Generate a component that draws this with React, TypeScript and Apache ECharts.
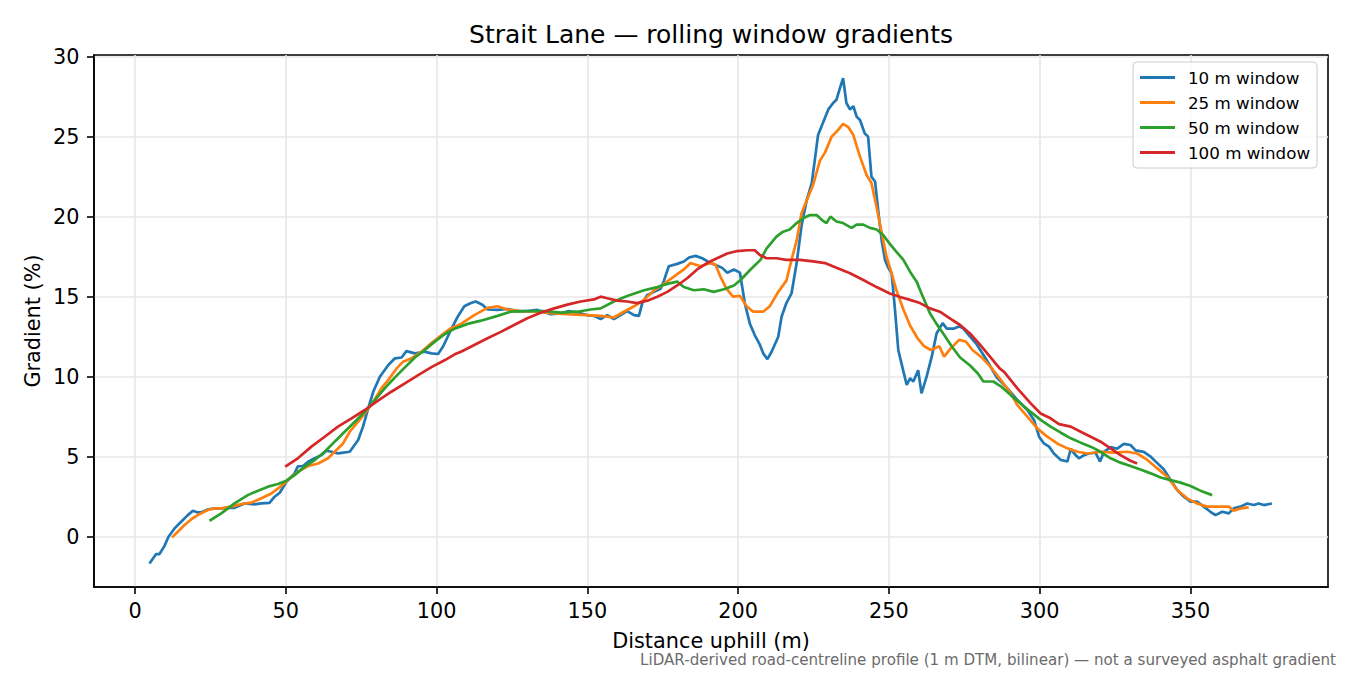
import { useEffect, useRef } from 'react'
import * as echarts from 'echarts'

// legend + colours (matplotlib tab10)
const seriesNames = ['10 m window', '25 m window', '50 m window', '100 m window']
const seriesColors = ['#1f77b4', '#ff7f0e', '#2ca02c', '#d62728']

// tick labels
const xTicks = [0, 50, 100, 150, 200, 250, 300, 350]
const yTicks = [0, 5, 10, 15, 20, 25, 30]

// 10 m window
const dist10 = [
  4.8, 7.0, 8.1, 9.7, 11.1, 13.1, 15.3, 17.5, 19.2, 20.8, 21.9, 24.1, 26.4, 28.6, 30.8, 33.0, 36.3, 39.6,
  41.9, 44.6, 46.3, 48.0, 50.2, 52.9, 54.0, 55.7, 57.4, 59.6, 61.8, 63.5, 65.1, 67.3, 71.2, 74.0, 75.6,
  77.3, 79.0, 81.2, 84.0, 86.2, 88.4, 90.0, 92.8, 96.1, 98.3, 100.5, 102.2, 104.7, 107.0, 109.2, 111.4,
  113.0, 115.2, 116.9, 120.2, 123.5, 126.8, 130.1, 133.4, 137.9, 141.2, 143.9, 146.7, 150.0, 152.2, 154.4,
  156.6, 158.8, 161.0, 163.2, 165.5, 167.1, 168.2, 169.9, 172.1, 174.3, 175.4, 177.0, 179.8, 182.0, 183.7,
  185.9, 188.1, 190.8, 193.5, 194.7, 196.4, 198.6, 200.6, 202.2, 203.9, 205.5, 207.2, 208.3, 209.7, 211.1,
  213.3, 214.4, 216.0, 217.7, 219.4, 221.0, 222.7, 224.4, 225.4, 226.5, 228.2, 229.9, 231.5, 232.6, 233.7,
  234.8, 235.9, 237.1, 238.2, 239.3, 240.4, 242.0, 243.1, 244.2, 245.4, 246.5, 247.6, 248.7, 249.8, 250.9,
  252.0, 253.1, 254.2, 255.9, 257.0, 258.1, 259.7, 260.8, 262.5, 264.2, 265.8, 267.8, 269.2, 271.4, 273.4,
  274.7, 276.9, 279.2, 282.4, 285.8, 289.3, 292.6, 295.9, 298.1, 299.8, 301.4, 303.1, 304.7, 307.0, 309.2,
  310.3, 311.4, 313.0, 314.7, 316.3, 318.5, 320.0, 321.3, 323.5, 325.7, 327.9, 330.1, 331.8, 334.5, 336.8,
  339.0, 341.2, 343.4, 345.6, 347.8, 350.0, 352.2, 354.4, 356.6, 358.3, 360.5, 362.7, 364.3, 366.6, 368.8,
  371.0, 372.6, 374.3, 377.0
]
const grad10 = [
  -1.67, -1.08, -1.08, -0.6, 0.0, 0.52, 0.94, 1.35, 1.63, 1.52, 1.52, 1.7, 1.77, 1.77, 1.81, 1.81, 2.08, 2.02,
  2.08, 2.12, 2.5, 2.75, 3.44, 3.96, 4.4, 4.42, 4.69, 4.9, 5.1, 5.38, 5.31, 5.21, 5.31, 6.04, 6.88,
  8.0, 9.06, 10.0, 10.73, 11.15, 11.2, 11.6, 11.46, 11.56, 11.46, 11.42, 11.9, 12.9, 13.75, 14.4, 14.6,
  14.7, 14.5, 14.2, 14.17, 14.23, 14.1, 14.1, 14.17, 13.9, 13.96, 14.1, 14.0, 13.85, 13.8, 13.6,
  13.85, 13.6, 13.85, 14.1, 13.85, 13.8, 14.6, 15.1, 15.3, 15.5, 16.0, 16.9, 17.05, 17.2, 17.45,
  17.55, 17.4, 17.1, 16.9, 16.8, 16.5, 16.7, 16.5, 14.6, 13.3, 12.6, 12.0, 11.46, 11.1, 11.56,
  12.5, 13.75, 14.6, 15.2, 17.1, 19.4, 21.0, 22.1, 23.5, 25.1, 25.9, 26.7, 27.1, 27.3, 28.0,
  28.65, 27.1, 26.7, 26.9, 26.25, 26.04, 25.2, 25.0, 22.5, 22.2, 20.3, 18.5, 17.3, 16.8, 16.46,
  14.2, 11.67, 10.8, 9.48, 9.9, 9.7, 10.4, 8.96, 10.0, 11.25, 12.7, 13.35, 13.0, 13.0, 13.15,
  13.0, 12.5, 12.0, 11.04, 9.95, 9.27, 8.54, 7.92, 7.3, 6.25, 5.83, 5.63, 5.2, 4.8, 4.7,
  5.5, 5.2, 4.9, 5.1, 5.2, 5.25, 4.7, 5.3, 5.6, 5.5, 5.8, 5.73, 5.4, 5.3, 5.0,
  4.6, 4.2, 3.54, 2.92, 2.5, 2.19, 2.19, 1.88, 1.56, 1.35, 1.56, 1.46, 1.77, 1.88, 2.08,
  1.98, 2.08, 1.98, 2.08
]

// 25 m window
const dist25 = [
  12.3, 14.2, 16.4, 18.6, 20.8, 24.1, 26.4, 28.6, 31.9, 35.2, 38.5, 41.9, 45.2, 48.0, 50.7, 54.0, 57.4,
  60.7, 64.0, 66.2, 69.0, 71.2, 74.0, 76.2, 79.0, 81.7, 84.0, 86.7, 88.9, 91.7, 95.0, 98.3, 101.7, 104.5,
  108.1, 112.5, 116.9, 120.2, 123.5, 127.9, 133.4, 139.0, 144.5, 150.0, 154.4, 158.8, 162.1, 165.5, 168.8,
  172.1, 175.4, 178.7, 182.0, 184.2, 187.5, 190.8, 192.5, 194.0, 196.1, 198.3, 200.6, 202.8, 205.0, 208.3,
  210.5, 213.3, 216.0, 217.7, 219.4, 221.0, 222.7, 224.9, 227.1, 228.8, 231.0, 232.6, 234.8, 236.5, 238.2,
  240.4, 242.6, 244.2, 245.9, 247.6, 249.2, 250.9, 252.5, 254.8, 257.0, 259.5, 261.7, 263.9, 266.7, 268.3,
  270.5, 273.3, 275.5, 277.7, 280.5, 283.8, 287.1, 290.4, 292.6, 295.9, 299.2, 302.5, 305.8, 309.2, 312.5,
  315.8, 320.2, 324.6, 329.0, 332.3, 335.7, 339.0, 342.3, 345.6, 348.9, 352.2, 355.5, 359.9, 362.7, 364.3,
  366.6, 369.3
]
const grad25 = [
  -0.04, 0.31, 0.73, 1.08, 1.35, 1.67, 1.77, 1.77, 1.88, 2.04, 2.13, 2.4, 2.7, 3.1, 3.54, 4.06, 4.42,
  4.58, 4.9, 5.31, 5.83, 6.56, 7.19, 7.7, 8.44, 9.27, 9.8, 10.5, 10.94, 11.15, 11.56, 12.1, 12.6, 13.0,
  13.3, 13.85, 14.3, 14.4, 14.2, 14.1, 14.06, 13.96, 13.9, 13.85, 13.8, 13.7, 14.06, 14.4, 14.8,
  15.4, 15.8, 16.25, 16.7, 17.1, 16.9, 17.1, 17.0, 16.3, 15.5, 15.0, 15.05, 14.4, 14.06, 14.06,
  14.4, 15.3, 16.0, 17.3, 18.5, 20.2, 21.0, 22.0, 23.5, 24.0, 25.0, 25.3, 25.8, 25.6, 25.1,
  23.75, 22.6, 22.1, 20.6, 19.0, 17.5, 16.46, 15.4, 14.2, 13.2, 12.4, 11.9, 11.67, 11.9, 11.25,
  11.77, 12.3, 12.2, 11.67, 11.25, 10.6, 9.8, 8.96, 8.23, 7.5, 6.77, 6.25, 5.83, 5.52, 5.31,
  5.2, 5.31, 5.25, 5.31, 5.2, 4.8, 4.27, 3.75, 2.92, 2.4, 2.08, 1.88, 1.88, 1.88, 1.63,
  1.77, 1.83
]

// 50 m window
const dist50 = [
  24.7, 28.6, 33.0, 37.4, 40.8, 44.1, 47.4, 50.2, 52.9, 56.3, 59.6, 62.9, 66.2, 69.5, 72.9, 76.2, 79.5,
  82.8, 86.2, 89.5, 92.8, 96.1, 99.4, 102.8, 106.0, 110.3, 114.7, 120.2, 124.6, 130.1, 135.7, 141.2, 146.7,
  151.1, 154.4, 158.8, 163.2, 168.8, 173.2, 176.5, 179.8, 182.0, 185.3, 188.6, 191.9, 195.3, 198.6, 200.8,
  204.1, 207.4, 209.4, 212.7, 214.9, 217.1, 219.4, 221.6, 223.8, 226.0, 227.7, 229.3, 230.6, 232.6, 234.8,
  237.6, 239.3, 241.5, 243.7, 245.9, 248.1, 250.3, 252.5, 254.8, 257.0, 259.2, 260.8, 263.6, 265.8, 268.0,
  270.8, 273.6, 276.9, 279.5, 281.3, 284.6, 287.1, 290.4, 293.7, 297.0, 300.3, 303.6, 307.0, 310.3, 313.6,
  316.9, 320.2, 323.5, 326.8, 330.1, 333.4, 336.8, 340.1, 343.4, 346.7, 350.0, 353.3, 357.2
]
const grad50 = [
  1.0, 1.46, 2.08, 2.6, 2.88, 3.13, 3.3, 3.5, 3.85, 4.38, 4.79, 5.31, 5.94, 6.56, 7.19, 7.81, 8.54,
  9.27, 9.96, 10.58, 11.2, 11.67, 12.19, 12.67, 13.0, 13.3, 13.5, 13.8, 14.06, 14.1, 14.1, 14.0, 14.06,
  14.2, 14.27, 14.7, 15.04, 15.4, 15.6, 15.8, 15.94, 15.6, 15.4, 15.46, 15.3, 15.46, 15.7, 16.04,
  16.7, 17.3, 18.0, 18.75, 19.06, 19.2, 19.6, 19.9, 20.1, 20.1, 19.8, 19.6, 20.0, 19.7, 19.6,
  19.3, 19.5, 19.5, 19.3, 19.2, 18.85, 18.3, 17.8, 17.3, 16.56, 15.94, 15.2, 13.96, 13.3, 12.7,
  11.9, 11.2, 10.7, 10.2, 9.7, 9.7, 9.4, 8.85, 8.33, 7.8, 7.3, 6.88, 6.5, 6.15, 5.88,
  5.63, 5.31, 4.9, 4.63, 4.42, 4.2, 3.96, 3.7, 3.54, 3.38, 3.17, 2.88, 2.6
]

// 100 m window
const dist100 = [
  49.8, 54.0, 58.5, 62.9, 67.3, 71.8, 76.2, 80.6, 85.0, 89.5, 93.9, 98.3, 102.8, 106.0, 108.1, 112.5, 116.9,
  121.3, 125.7, 130.1, 134.5, 139.0, 143.4, 147.8, 152.2, 154.4, 156.6, 159.9, 163.2, 166.5, 169.9, 173.2,
  176.5, 179.8, 183.1, 186.4, 189.7, 193.0, 196.4, 199.7, 203.0, 205.5, 207.2, 209.4, 212.7, 216.0, 220.5,
  224.9, 228.8, 232.6, 237.1, 241.5, 245.9, 250.3, 254.0, 257.0, 260.3, 263.6, 266.9, 270.2, 273.6, 276.9,
  280.2, 283.5, 286.8, 288.2, 292.6, 297.0, 300.3, 303.6, 306.4, 310.3, 313.6, 316.9, 320.2, 323.5, 326.8,
  330.1, 332.3
]
const grad100 = [
  4.38, 4.9, 5.63, 6.25, 6.88, 7.4, 7.92, 8.5, 9.06, 9.58, 10.1, 10.6, 11.04, 11.4, 11.56, 11.98, 12.4,
  12.8, 13.23, 13.65, 14.0, 14.27, 14.5, 14.7, 14.83, 15.0, 14.9, 14.75, 14.7, 14.6, 14.75, 15.0,
  15.3, 15.7, 16.15, 16.7, 17.1, 17.4, 17.7, 17.85, 17.9, 17.9, 17.6, 17.4, 17.4, 17.3, 17.3,
  17.2, 17.1, 16.8, 16.46, 16.04, 15.6, 15.2, 14.96, 14.8, 14.6, 14.27, 14.06, 13.65, 13.23, 12.7,
  12.0, 11.25, 10.5, 10.3, 9.27, 8.33, 7.7, 7.4, 7.04, 6.88, 6.56, 6.25, 5.94, 5.52, 5.1,
  4.75, 4.58
]

const titleText = 'Strait Lane — rolling window gradients'
const xName = 'Distance uphill (m)'
const yName = 'Gradient (%)'
const footnote = 'LiDAR-derived road-centreline profile (1 m DTM, bilinear) — not a surveyed asphalt gradient'

const font = 'DejaVu Sans'

const zip = (xs: number[], ys: number[]): number[][] => xs.map((x, i) => [x, ys[i]])

const App: React.FC = () => {
  const chartRef = useRef<HTMLDivElement | null>(null)

  useEffect(() => {
    if (chartRef.current === null) return
    const chart = echarts.init(chartRef.current, null, { renderer: 'svg' })
    const allData = [zip(dist10, grad10), zip(dist25, grad25), zip(dist50, grad50), zip(dist100, grad100)]

    chart.setOption({
      animation: false,
      backgroundColor: '#fff',
      textStyle: { fontFamily: font },
      grid: {
        left: 94, right: 22, top: 55, bottom: 88,
        show: true, borderColor: '#000', borderWidth: 1.6, backgroundColor: 'transparent'
      },
      xAxis: {
        type: 'value', min: -13.6, max: 395.6,
        axisLine: { show: true, onZero: false, lineStyle: { color: '#000', width: 1.6 } },
        axisTick: { show: true, customValues: xTicks, length: 7, lineStyle: { color: '#000', width: 1.6 } },
        axisLabel: { customValues: xTicks, margin: 13, color: '#000', fontSize: 20.8, fontFamily: font },
        splitLine: { show: true, lineStyle: { color: '#e8e8e8', width: 1.6 } }
      },
      yAxis: {
        type: 'value', min: -3.14, max: 30.1,
        axisLine: { show: true, onZero: false, lineStyle: { color: '#000', width: 1.6 } },
        axisTick: { show: true, customValues: yTicks, length: 7, lineStyle: { color: '#000', width: 1.6 } },
        axisLabel: { customValues: yTicks, margin: 14.6, color: '#000', fontSize: 20.8, fontFamily: font },
        splitLine: { show: true, lineStyle: { color: '#e8e8e8', width: 1.6 } }
      },
      legend: {
        orient: 'vertical', left: 1133, top: 62,
        padding: [7, 7, 7, 7],
        itemWidth: 35, itemHeight: 3, itemGap: 8,
        icon: 'rect', selectedMode: false,
        backgroundColor: 'rgba(255,255,255,0.8)',
        borderColor: '#cccccc', borderWidth: 1, borderRadius: 4,
        textStyle: { fontSize: 16.7, lineHeight: 17, color: '#000', fontFamily: font, padding: [0, 0, 0, 8] },
        data: seriesNames
      },
      series: seriesNames.map((name, i) => ({
        name,
        type: 'line',
        data: allData[i],
        showSymbol: false,
        symbol: 'none',
        color: seriesColors[i],
        lineStyle: { color: seriesColors[i], width: 2.7 },
        z: 2 + i
      })),
      graphic: [
        {
          type: 'text', x: 711, y: 34,
          style: { text: titleText, fontSize: 25, fontFamily: font, fill: '#000', align: 'center', verticalAlign: 'middle' }
        },
        {
          type: 'text', x: 711, y: 641,
          style: { text: xName, fontSize: 20.8, fontFamily: font, fill: '#000', align: 'center', verticalAlign: 'middle' }
        },
        {
          type: 'text', x: 32.5, y: 321, rotation: Math.PI / 2,
          style: { text: yName, fontSize: 20.8, fontFamily: font, fill: '#000', align: 'center', verticalAlign: 'middle' }
        },
        {
          type: 'text', x: 1336, y: 660,
          style: { text: footnote, fontSize: 15.1, fontFamily: font, fill: '#6b6b6b', align: 'right', verticalAlign: 'middle' }
        }
      ]
    })

    return () => {
      chart.dispose()
    }
  }, [])

  return (
    <div
      ref={chartRef}
      style={{ position: 'fixed', left: 0, top: 0, width: 1350, height: 675 }}
    />
  )
}

export default App
